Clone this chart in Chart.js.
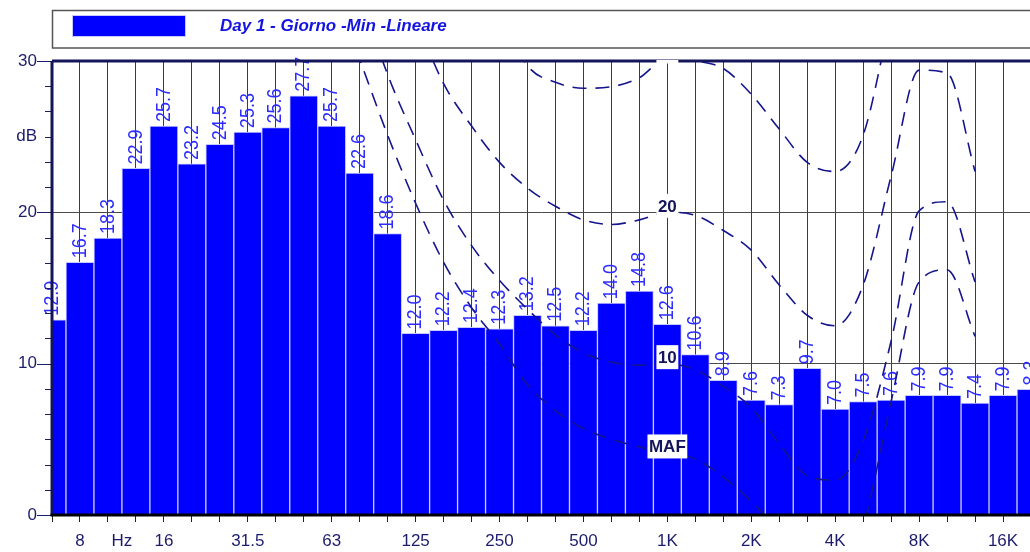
<!DOCTYPE html>
<html>
<head>
<meta charset="utf-8">
<title>Spettro 1/3 ottava</title>
<script src="https://cdn.jsdelivr.net/npm/chart.js@4.4.1/dist/chart.umd.min.js"></script>
<style>
  html, body { margin: 0; padding: 0; background: #fff; overflow: hidden; }
  canvas { display: block; }
</style>
</head>
<body>
<canvas id="spectrum" width="1040" height="552"></canvas>
<script>
// 1/3 octave bands, 6.3 Hz .. 20 kHz
const bands = ['6.3', '8', '10', '12.5', '16', '20', '25', '31.5', '40', '50', '63', '80',
  '100', '125', '160', '200', '250', '315', '400', '500', '630', '800', '1K', '1.25K',
  '1.6K', '2K', '2.5K', '3.15K', '4K', '5K', '6.3K', '8K', '10K', '12.5K', '16K', '20K'];

// labels printed under the axis (empty = tick mark only)
const axisLabels = ['', '8', '', '', '16', '', '', '31.5', '', '', '63', '', '', '125', '', '',
  '250', '', '', '500', '', '', '1K', '', '', '2K', '', '', '4K', '', '', '8K', '', '', '16K', ''];

// measured levels, dB
const levels = [12.9, 16.7, 18.3, 22.9, 25.7, 23.2, 24.5, 25.3, 25.6, 27.7, 25.7, 22.6,
  18.6, 12.0, 12.2, 12.4, 12.3, 13.2, 12.5, 12.2, 14.0, 14.8, 12.6, 10.6,
  8.9, 7.6, 7.3, 9.7, 7.0, 7.5, 7.6, 7.9, 7.9, 7.4, 7.9, 8.3];

// equal loudness contours (dB), null where not defined
const mafCurve = [null, null, null, null, null, null, null, null, null, null, 35, 30.1,
  25.1, 20.6, 16.7, 13.7, 11.3, 8.6, 6.9, 5.7, 5.0, 4.5, 4.1, 3.7,
  2.5, 0.9, -1.1, -3.5, -4.5, -0.7, 7.5, 15.4, 16.2, 11.8, null, null];
const phon10 = [null, null, null, null, null, null, null, null, null, null, null, 34.5,
  29.1, 24.8, 20.8, 17.8, 15.5, 13.6, 11.9, 10.7, 10.1, 9.9, 10.0, 9.6,
  8.5, 7.1, 4.7, 2.6, 2.3, 4.9, 11.5, 20.1, 20.7, 15.4, null, null];
const phon20 = [null, null, null, null, null, null, null, null, null, null, null, null,
  null, 32.8, 28.5, 25.7, 23.3, 21.6, 20.4, 19.5, 19.2, 19.5, 20.0, 19.8,
  18.8, 17.5, 15.2, 13.2, 12.5, 15.2, 22.4, 29.4, 29.2, 22.7, null, null];
const phon30 = [null, null, null, null, null, null, null, null, null, null, null, null,
  null, null, null, null, 33.5, 29.7, 28.6, 28.2, 28.3, 28.9, 30.2, 30.0,
  29.5, 27.8, 25.5, 23.3, 22.7, 25.1, 33, 40, 40, 36, null, null];
const curveLabels = ['MAF', '10', '20', '30'];

// y axis: minor ticks every 10/6 dB, text only on a few of them
const yTicks = Array.from({ length: 19 }, (_, i) => i * 10 / 6);
const yLabelValues = [0, 10, 20, 25, 30];
const yLabelTexts = ['0', '10', '20', 'dB', '30'];

const seriesName = 'Day 1 - Giorno -Min -Lineare';
const labelBand = '1K';

const FONT = "'Liberation Sans', Arial, sans-serif";
const NAVY = '#1c1c6c';
const CURVE = '#15158e';

Chart.defaults.font.family = FONT;

// legend frame at the top
const legendBox = {
  id: 'legendBox',
  afterDraw(chart) {
    const ctx = chart.ctx;
    const ds = chart.data.datasets[0];
    ctx.save();
    ctx.strokeStyle = '#555';
    ctx.lineWidth = 1.5;
    ctx.strokeRect(52.5, 10.5, chart.width, 37.5);
    ctx.fillStyle = ds.backgroundColor;
    ctx.fillRect(72, 15, 114, 22);
    ctx.strokeStyle = '#c8c8ff';
    ctx.lineWidth = 1;
    ctx.strokeRect(72.5, 15.5, 113, 21);
    ctx.fillStyle = '#1414e0';
    ctx.font = `italic bold 17px ${FONT}`;
    ctx.textBaseline = 'middle';
    ctx.fillText(ds.label, 220, 26);
    ctx.restore();
  }
};

// rotated value labels on top of each bar
const barValues = {
  id: 'barValues',
  afterDatasetDraw(chart, args) {
    if (args.meta.type !== 'bar') return;
    const ctx = chart.ctx;
    ctx.save();
    ctx.fillStyle = '#2c2cff';
    ctx.font = `18px ${FONT}`;
    ctx.textAlign = 'left';
    ctx.textBaseline = 'middle';
    args.meta.data.forEach((bar, i) => {
      ctx.save();
      ctx.translate(bar.x, bar.y - 4);
      ctx.rotate(-Math.PI / 2);
      ctx.scale(1, 1.15);
      ctx.fillText(levels[i].toFixed(1), 0, 0);
      ctx.restore();
    });
    ctx.restore();
  }
};

// plot frame, y tick marks, curve names and the Hz caption
const frame = {
  id: 'frame',
  afterDatasetsDraw(chart) {
    const { ctx, chartArea: a, scales } = chart;
    const y = scales.y, x = scales.x;
    ctx.save();

    ctx.strokeStyle = NAVY;
    ctx.lineWidth = 1;
    yTicks.forEach(v => {
      const py = Math.round(y.getPixelForValue(v)) + 0.5;
      const len = (Math.abs(v % 10) < 1e-6) ? 15 : 7;
      ctx.beginPath();
      ctx.moveTo(a.left - len, py);
      ctx.lineTo(a.left, py);
      ctx.stroke();
    });

    ctx.lineWidth = 3;
    ctx.strokeStyle = '#14145a';
    ctx.beginPath();
    ctx.moveTo(a.left, a.top);
    ctx.lineTo(a.right + 10, a.top);
    ctx.moveTo(a.left, a.top);
    ctx.lineTo(a.left, a.bottom);
    ctx.stroke();
    ctx.strokeStyle = '#000';
    ctx.beginPath();
    ctx.moveTo(a.left - 1.5, a.bottom);
    ctx.lineTo(a.right + 10, a.bottom);
    ctx.stroke();

    // unit caption between the 10 and 12.5 Hz ticks
    ctx.fillStyle = NAVY;
    ctx.font = `17px ${FONT}`;
    ctx.textAlign = 'center';
    ctx.textBaseline = 'middle';
    const hzX = (x.getPixelForTick(2) + x.getPixelForTick(3)) / 2;
    ctx.fillText('Hz', hzX, a.bottom + 26);

    // contour names on white boxes at 1 kHz
    ctx.beginPath();
    ctx.rect(a.left, a.top - 1, a.right - a.left, a.bottom - a.top + 1);
    ctx.clip();
    const k = bands.indexOf(labelBand);
    ctx.font = `bold 17px ${FONT}`;
    chart.data.datasets.forEach(ds => {
      if (ds.type !== 'line') return;
      const px = x.getPixelForValue(k);
      const py = y.getPixelForValue(ds.data[k]) - 6.5;
      const w = ctx.measureText(ds.label).width + 3;
      ctx.fillStyle = '#fff';
      ctx.fillRect(px - w / 2, py - 12, w, 24);
      ctx.fillStyle = '#14145a';
      ctx.fillText(ds.label, px, py + 1);
    });
    ctx.restore();
  }
};

const curve = (label, data) => ({
  type: 'line',
  label,
  data,
  borderColor: CURVE,
  borderWidth: 1.6,
  borderDash: [14, 9],
  pointRadius: 0,
  fill: false,
  cubicInterpolationMode: 'monotone',
  order: 1
});

new Chart(document.getElementById('spectrum'), {
  type: 'bar',
  data: {
    labels: bands,
    datasets: [
      {
        label: seriesName,
        data: levels,
        backgroundColor: '#0000ff',
        borderColor: '#c8c8ff',
        borderWidth: 1,
        barPercentage: 1,
        categoryPercentage: 1,
        order: 2
      },
      curve(curveLabels[0], mafCurve),
      curve(curveLabels[1], phon10),
      curve(curveLabels[2], phon20),
      curve(curveLabels[3], phon30)
    ]
  },
  options: {
    responsive: false,
    animation: false,
    devicePixelRatio: 1,
    events: [],
    layout: { padding: { top: 61, right: 4, left: 0, bottom: 0 } },
    plugins: {
      legend: { display: false },
      tooltip: { enabled: false }
    },
    scales: {
      x: {
        type: 'category',
        offset: false,
        afterFit: s => { s.height = 37; },
        border: { display: false },
        grid: { offset: false, color: '#3c3c3c', lineWidth: 1, tickLength: 7, tickColor: '#202020' },
        ticks: {
          autoSkip: false,
          maxRotation: 0,
          padding: 9,
          color: NAVY,
          font: { size: 17 },
          callback: (v, i) => axisLabels[i]
        }
      },
      y: {
        min: 0,
        max: 30,
        afterFit: s => { s.width = 52; },
        afterBuildTicks: s => { s.ticks = yTicks.map(v => ({ value: v })); },
        border: { display: false },
        grid: {
          drawTicks: false,
          color: c => (c.tick && (c.tick.value === 10 || c.tick.value === 20)) ? '#4a4a4a' : 'rgba(0,0,0,0)'
        },
        ticks: {
          padding: 15,
          color: NAVY,
          font: { size: 17 },
          callback: v => {
            const j = yLabelValues.findIndex(t => Math.abs(t - v) < 1e-6);
            return j < 0 ? '' : yLabelTexts[j];
          }
        }
      }
    }
  },
  plugins: [legendBox, barValues, frame]
});
</script>
</body>
</html>
